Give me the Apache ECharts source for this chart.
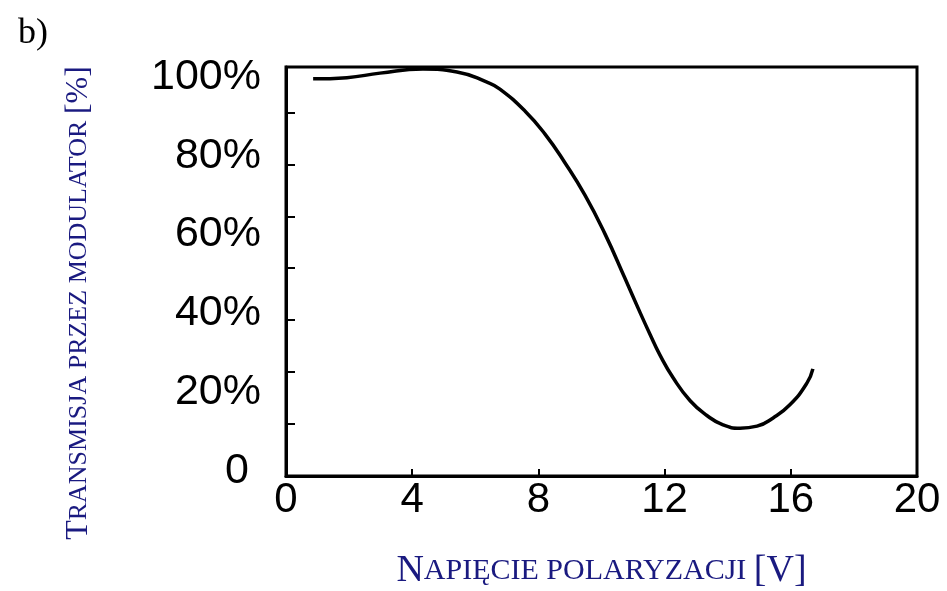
<!DOCTYPE html>
<html>
<head>
<meta charset="utf-8">
<title>Transmisja przez modulator</title>
<script src="https://cdn.jsdelivr.net/npm/echarts@6/dist/echarts.min.js"></script>
<style>
  html, body { margin: 0; padding: 0; background: #fff; }
  #chart { width: 947px; height: 591px; }
</style>
</head>
<body>
<div id="chart"></div>
<script>
// Bias voltage [V] vs. transmission [%]
const voltage = [0.86, 1.93, 2.98, 4.34, 5.42, 6.37, 6.78, 7.58, 8.21, 8.84, 9.48, 10.11, 10.74, 11.22, 11.54, 11.85, 12.27, 12.81, 13.34, 13.85, 14.39, 14.93, 15.44, 15.97, 16.51, 16.7];
const transmission = [97.1, 97.4, 98.5, 99.5, 98.8, 96.3, 94.6, 89.2, 83.6, 76.6, 68.6, 59.2, 48.4, 40.0, 34.6, 29.6, 24.0, 18.4, 14.8, 12.5, 11.7, 12.2, 14.2, 17.4, 22.7, 26.2];

const xTicks = [0, 4, 8, 12, 16, 20];
const yLabelValues = [0, 20, 40, 60, 80, 100];
const yTickValues = [12.7, 25.4, 38.1, 50.8, 63.5, 76.2, 88.9];

const titleColor = '#1a1a80';
const serif = 'Liberation Serif';
const sans = 'Liberation Sans';

const chart = echarts.init(document.getElementById('chart'), null, { renderer: 'canvas' });

chart.setOption({
  animation: false,
  backgroundColor: '#fff',
  graphic: [{
    type: 'text',
    left: 18,
    top: 16,
    style: { text: 'b)', font: '36px "Liberation Serif"', fill: '#000' }
  }, {
    // vertical axis title, small caps
    type: 'text',
    x: 79,
    y: 303,
    rotation: Math.PI / 2,
    style: {
      text: '{b|T}{s|RANSMISJA PRZEZ MODULATOR} {b|[%]}',
      align: 'center',
      verticalAlign: 'middle',
      fill: titleColor,
      font: '26px "Liberation Serif"',
      rich: {
        b: { fill: titleColor, fontFamily: serif, fontSize: 32 },
        s: { fill: titleColor, fontFamily: serif, fontSize: 26 }
      }
    }
  }],
  grid: {
    left: 286, right: 30, top: 67, bottom: 115,
    outerBoundsMode: 'none',
    containLabel: false,
    show: true, borderColor: '#000', borderWidth: 3, backgroundColor: 'transparent'
  },
  xAxis: {
    type: 'value',
    min: 0, max: 20, interval: 4,
    axisLine: { show: true, lineStyle: { color: '#000', width: 3 } },
    axisTick: { show: true, inside: true, length: 7, lineStyle: { color: '#000', width: 2 }, customValues: xTicks },
    axisLabel: { color: '#000', fontSize: 42, fontFamily: sans, margin: 3, customValues: xTicks },
    splitLine: { show: false },
    name: '{b|N}{s|APIĘCIE POLARYZACJI} {b|[V]}',
    nameLocation: 'middle',
    nameGap: 76,
    nameTextStyle: {
      color: titleColor, fontFamily: serif, fontSize: 30,
      rich: {
        b: { color: titleColor, fontFamily: serif, fontSize: 38 },
        s: { color: titleColor, fontFamily: serif, fontSize: 30 }
      }
    }
  },
  yAxis: [{
    type: 'value',
    min: 0, max: 100,
    axisLine: { show: true, lineStyle: { color: '#000', width: 3 } },
    axisTick: { show: true, inside: true, length: 9, lineStyle: { color: '#000', width: 2 }, customValues: yTickValues },
    axisLabel: { show: false },
    splitLine: { show: false }
  }, {
    // percentage labels
    type: 'value',
    position: 'left',
    min: -1.27, max: 102.5,
    axisLine: { show: false },
    axisTick: { show: false },
    splitLine: { show: false },
    axisLabel: {
      color: '#000', fontSize: 43, fontFamily: sans, margin: 25,
      customValues: yLabelValues,
      formatter: v => (v === 0 ? '{z|0}' : v + '%'),
      rich: { z: { color: '#000', fontSize: 43, fontFamily: sans, padding: [0, 12, 0, 0] } }
    }
  }],
  series: [{
    type: 'line',
    yAxisIndex: 0,
    smooth: 0.5,
    symbol: 'none',
    lineStyle: { color: '#000', width: 3.5 },
    data: voltage.map((v, i) => [v, transmission[i]])
  }]
});
</script>
</body>
</html>
